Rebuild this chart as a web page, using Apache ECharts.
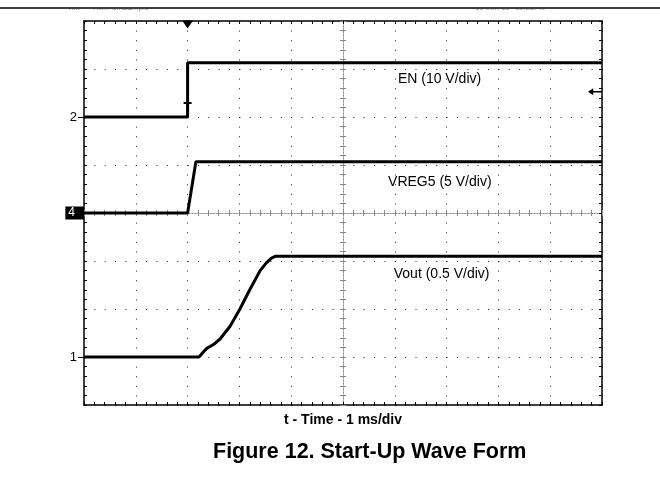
<!DOCTYPE html>
<html>
<head>
<meta charset="utf-8">
<script src="https://cdn.jsdelivr.net/npm/echarts@6/dist/echarts.min.js"></script>
<style>html,body{margin:0;padding:0;background:#fff}#c{width:660px;height:477px}</style>
</head>
<body>
<div id="c"></div>
<script>
// ---- data (time in ms from left screen edge, 1 ms/div; values in volts) ----
const enTime    = [0, 2.0, 2.0, 10];
const enVolts   = [0, 0, 11.3, 11.3];
const vregTime  = [0, 2.0, 2.16, 10];
const vregVolts = [0, 0, 5.35, 5.35];
const voutTime  = [0, 2.22, 2.30, 2.37, 2.50, 2.63, 2.82, 3.01, 3.20, 3.40, 3.52, 3.62, 3.70, 10];
const voutVolts = [0, 0, 0.05, 0.09, 0.13, 0.19, 0.32, 0.50, 0.70, 0.90, 0.98, 1.03, 1.05, 1.05];
const channelNames = ['EN (10 V/div)', 'VREG5 (5 V/div)', 'Vout (0.5 V/div)'];
const channelMarks = ['2', '4', '1'];
const xTitle = 't - Time - 1 ms/div';
const figTitle = 'Figure 12. Start-Up Wave Form';
const headerLeft = ['Tek', 'Run: 5kS/s', 'Sample'];
const headerRight = ['10 Jun 11', '11:28:40'];

const zip = (a, b) => a.map((v, i) => [v, b[i]]);
const FONT = 'Liberation Sans, Arial, Helvetica, sans-serif';
const chart = echarts.init(document.getElementById('c'), null, {renderer: 'canvas'});

const blk = {color: '#000', width: 1};
const borderLine = {show: true, onZero: false, lineStyle: {color: '#000', width: 1.5}};
const innerTick = {show: true, inside: true, length: 3, lineStyle: blk};
const innerMinor = {show: true, splitNumber: 5, length: 3, lineStyle: blk};
const centerLine = {show: true, onZero: true, lineStyle: {color: '#888', width: 1, type: [1, 2]}};
const centerTickStyle = {color: '#888', width: 1};

function chanAxis(min, max, mark, boxed) {
  return {
    type: 'value', min: min, max: max, position: 'left',
    axisLine: {show: false, onZero: false},
    axisTick: {show: true, inside: false, length: 6, customValues: [0], lineStyle: {color: boxed ? '#fff' : '#000', width: 1}},
    axisLabel: boxed ? {
      show: true, customValues: [0], formatter: () => mark, margin: 0,
      color: '#fff', backgroundColor: '#000', padding: [1, 9, 0, 3],
      fontFamily: FONT, fontSize: 12
    } : {
      show: true, customValues: [0], formatter: () => mark, margin: 7,
      color: '#000', fontFamily: FONT, fontSize: 13
    },
    splitLine: {show: false}
  };
}

const option = {
  animation: false,
  backgroundColor: '#fff',
  title: {
    text: figTitle, left: 208, top: 436,
    textStyle: {fontFamily: FONT, fontSize: 21.5, fontWeight: 'bold', color: '#000'}
  },
  grid: {left: 84, top: 21, width: 518, height: 384, outerBoundsMode: 'none', containLabel: false},
  xAxis: [
    { // 0: time, bottom border + vertical grid
      type: 'value', min: 0, max: 10, interval: 1, position: 'bottom',
      axisLine: borderLine, axisTick: innerTick, minorTick: innerMinor,
      axisLabel: {show: false},
      splitLine: {show: true, lineStyle: {color: '#222', width: 1, type: [1, 8.6]}},
      name: xTitle, nameLocation: 'middle', nameGap: 8,
      nameTextStyle: {fontFamily: FONT, fontSize: 14, fontWeight: 'bold', color: '#000', verticalAlign: 'top'}
    },
    { // 1: top border
      type: 'value', min: 0, max: 10, interval: 1, position: 'top',
      axisLine: borderLine, axisTick: innerTick, minorTick: innerMinor,
      axisLabel: {show: false}, splitLine: {show: false}
    },
    { // 2: helper, centred on zero
      type: 'value', min: -5, max: 5, show: false, axisLine: {onZero: false}
    },
    { // 3: centre horizontal line, ticks up
      type: 'value', min: 0, max: 10, interval: 1, position: 'bottom',
      axisLine: Object.assign({onZeroAxisIndex: 5}, centerLine),
      axisTick: {show: true, inside: true, length: 3, lineStyle: centerTickStyle},
      minorTick: {show: true, splitNumber: 5, length: 3, lineStyle: centerTickStyle},
      axisLabel: {show: false}, splitLine: {show: false}
    },
    { // 4: centre horizontal line, ticks down
      type: 'value', min: 0, max: 10, interval: 1, position: 'bottom',
      axisLine: Object.assign({onZeroAxisIndex: 5}, centerLine),
      axisTick: {show: true, inside: false, length: 3, lineStyle: centerTickStyle},
      minorTick: {show: true, splitNumber: 5, length: 3, lineStyle: centerTickStyle},
      axisLabel: {show: false}, splitLine: {show: false}
    }
  ],
  yAxis: [
    { // 0: divisions, left border + horizontal grid
      type: 'value', min: 0, max: 8, interval: 1, position: 'left',
      axisLine: borderLine, axisTick: innerTick, minorTick: innerMinor,
      axisLabel: {show: false},
      splitLine: {show: true, lineStyle: {color: '#222', width: 1, type: [1, 9.36]}}
    },
    { // 1: right border
      type: 'value', min: 0, max: 8, interval: 1, position: 'right',
      axisLine: borderLine, axisTick: innerTick, minorTick: innerMinor,
      axisLabel: {show: false}, splitLine: {show: false}
    },
    chanAxis(-60, 20, channelMarks[0], false),   // 2: EN, 10 V/div
    chanAxis(-20, 20, channelMarks[1], true),    // 3: VREG5, 5 V/div
    chanAxis(-0.5, 3.5, channelMarks[2], false), // 4: Vout, 0.5 V/div
    { // 5: helper centred on zero
      type: 'value', min: -4, max: 4, show: false, axisLine: {onZero: false}
    },
    { // 6: centre vertical line, ticks right
      type: 'value', min: 0, max: 8, interval: 1, position: 'left',
      axisLine: Object.assign({onZeroAxisIndex: 2}, centerLine),
      axisTick: {show: true, inside: true, length: 3, lineStyle: centerTickStyle},
      minorTick: {show: true, splitNumber: 5, length: 3, lineStyle: centerTickStyle},
      axisLabel: {show: false}, splitLine: {show: false}
    },
    { // 7: centre vertical line, ticks left
      type: 'value', min: 0, max: 8, interval: 1, position: 'left',
      axisLine: Object.assign({onZeroAxisIndex: 2}, centerLine),
      axisTick: {show: true, inside: false, length: 3, lineStyle: centerTickStyle},
      minorTick: {show: true, splitNumber: 5, length: 3, lineStyle: centerTickStyle},
      axisLabel: {show: false}, splitLine: {show: false}
    }
  ],
  series: [
    {
      name: channelNames[0], type: 'line', xAxisIndex: 0, yAxisIndex: 2,
      data: zip(enTime, enVolts), showSymbol: false, clip: false,
      lineStyle: {color: '#000', width: 3}, z: 5,
      markPoint: {
        silent: true, animation: false,
        data: [
          {coord: [6.06, 7.9], symbol: 'circle', symbolSize: 0,
           label: {show: true, position: 'right', distance: 0, formatter: channelNames[0],
                   fontFamily: FONT, fontSize: 14, color: '#000'}},
          {coord: [2, 20], symbol: 'triangle', symbolRotate: 180, symbolSize: [11, 8], symbolOffset: [0, 3.5],
           itemStyle: {color: '#000'}, label: {show: false}},
          {coord: [2, 2.1], symbol: 'path://M0,0 L10,0 L10,2.5 L6.2,2.5 L6.2,12 L3.8,12 L3.8,2.5 L0,2.5 Z', symbolSize: [8, 10],
           symbolKeepAspect: false, itemStyle: {color: '#000'}, label: {show: false}},
          {coord: [10, 5.27], symbol: 'path://M0,5 L6,0 L6,4 L16,4 L16,6 L6,6 L6,10 Z', symbolSize: [14, 7],
           symbolKeepAspect: false, symbolOffset: [-7, 0], itemStyle: {color: '#000'}, label: {show: false}}
        ]
      }
    },
    {
      name: channelNames[1], type: 'line', xAxisIndex: 0, yAxisIndex: 3,
      data: zip(vregTime, vregVolts), showSymbol: false,
      lineStyle: {color: '#000', width: 3}, z: 5,
      markPoint: {
        silent: true, animation: false,
        data: [{coord: [5.87, 3.23], symbol: 'circle', symbolSize: 0,
                label: {show: true, position: 'right', distance: 0, formatter: channelNames[1],
                        fontFamily: FONT, fontSize: 14, color: '#000'}}]
      }
    },
    {
      name: channelNames[2], type: 'line', xAxisIndex: 0, yAxisIndex: 4,
      data: zip(voutTime, voutVolts), showSymbol: false,
      lineStyle: {color: '#000', width: 3}, z: 5,
      markPoint: {
        silent: true, animation: false,
        data: [{coord: [5.98, 0.86], symbol: 'circle', symbolSize: 0,
                label: {show: true, position: 'right', distance: 0, formatter: channelNames[2],
                        fontFamily: FONT, fontSize: 14, color: '#000'}}]
      }
    }
  ],
  graphic: [
    {type: 'text', left: 67, top: 4, z: 1, style: {text: headerLeft[0], fontSize: 8, fontFamily: FONT, fill: '#999'}},
    {type: 'text', left: 93, top: 4, z: 1, style: {text: headerLeft[1], fontSize: 8, fontFamily: FONT, fill: '#999'}},
    {type: 'text', left: 122, top: 4, z: 1, style: {text: headerLeft[2], fontSize: 8, fontFamily: FONT, fill: '#999'}},
    {type: 'text', left: 475, top: 4, z: 1, style: {text: headerRight[0], fontSize: 8, fontFamily: FONT, fill: '#999'}},
    {type: 'text', left: 515, top: 4, z: 1, style: {text: headerRight[1], fontSize: 8, fontFamily: FONT, fill: '#999'}},
    {type: 'rect', shape: {x: 0, y: 0, width: 660, height: 9}, style: {fill: '#fff'}, z: 2},
    {type: 'line', shape: {x1: 0, y1: 8, x2: 660, y2: 8}, style: {stroke: '#000', lineWidth: 1.5}, z: 3}
  ]
};
chart.setOption(option);
</script>
</body>
</html>
